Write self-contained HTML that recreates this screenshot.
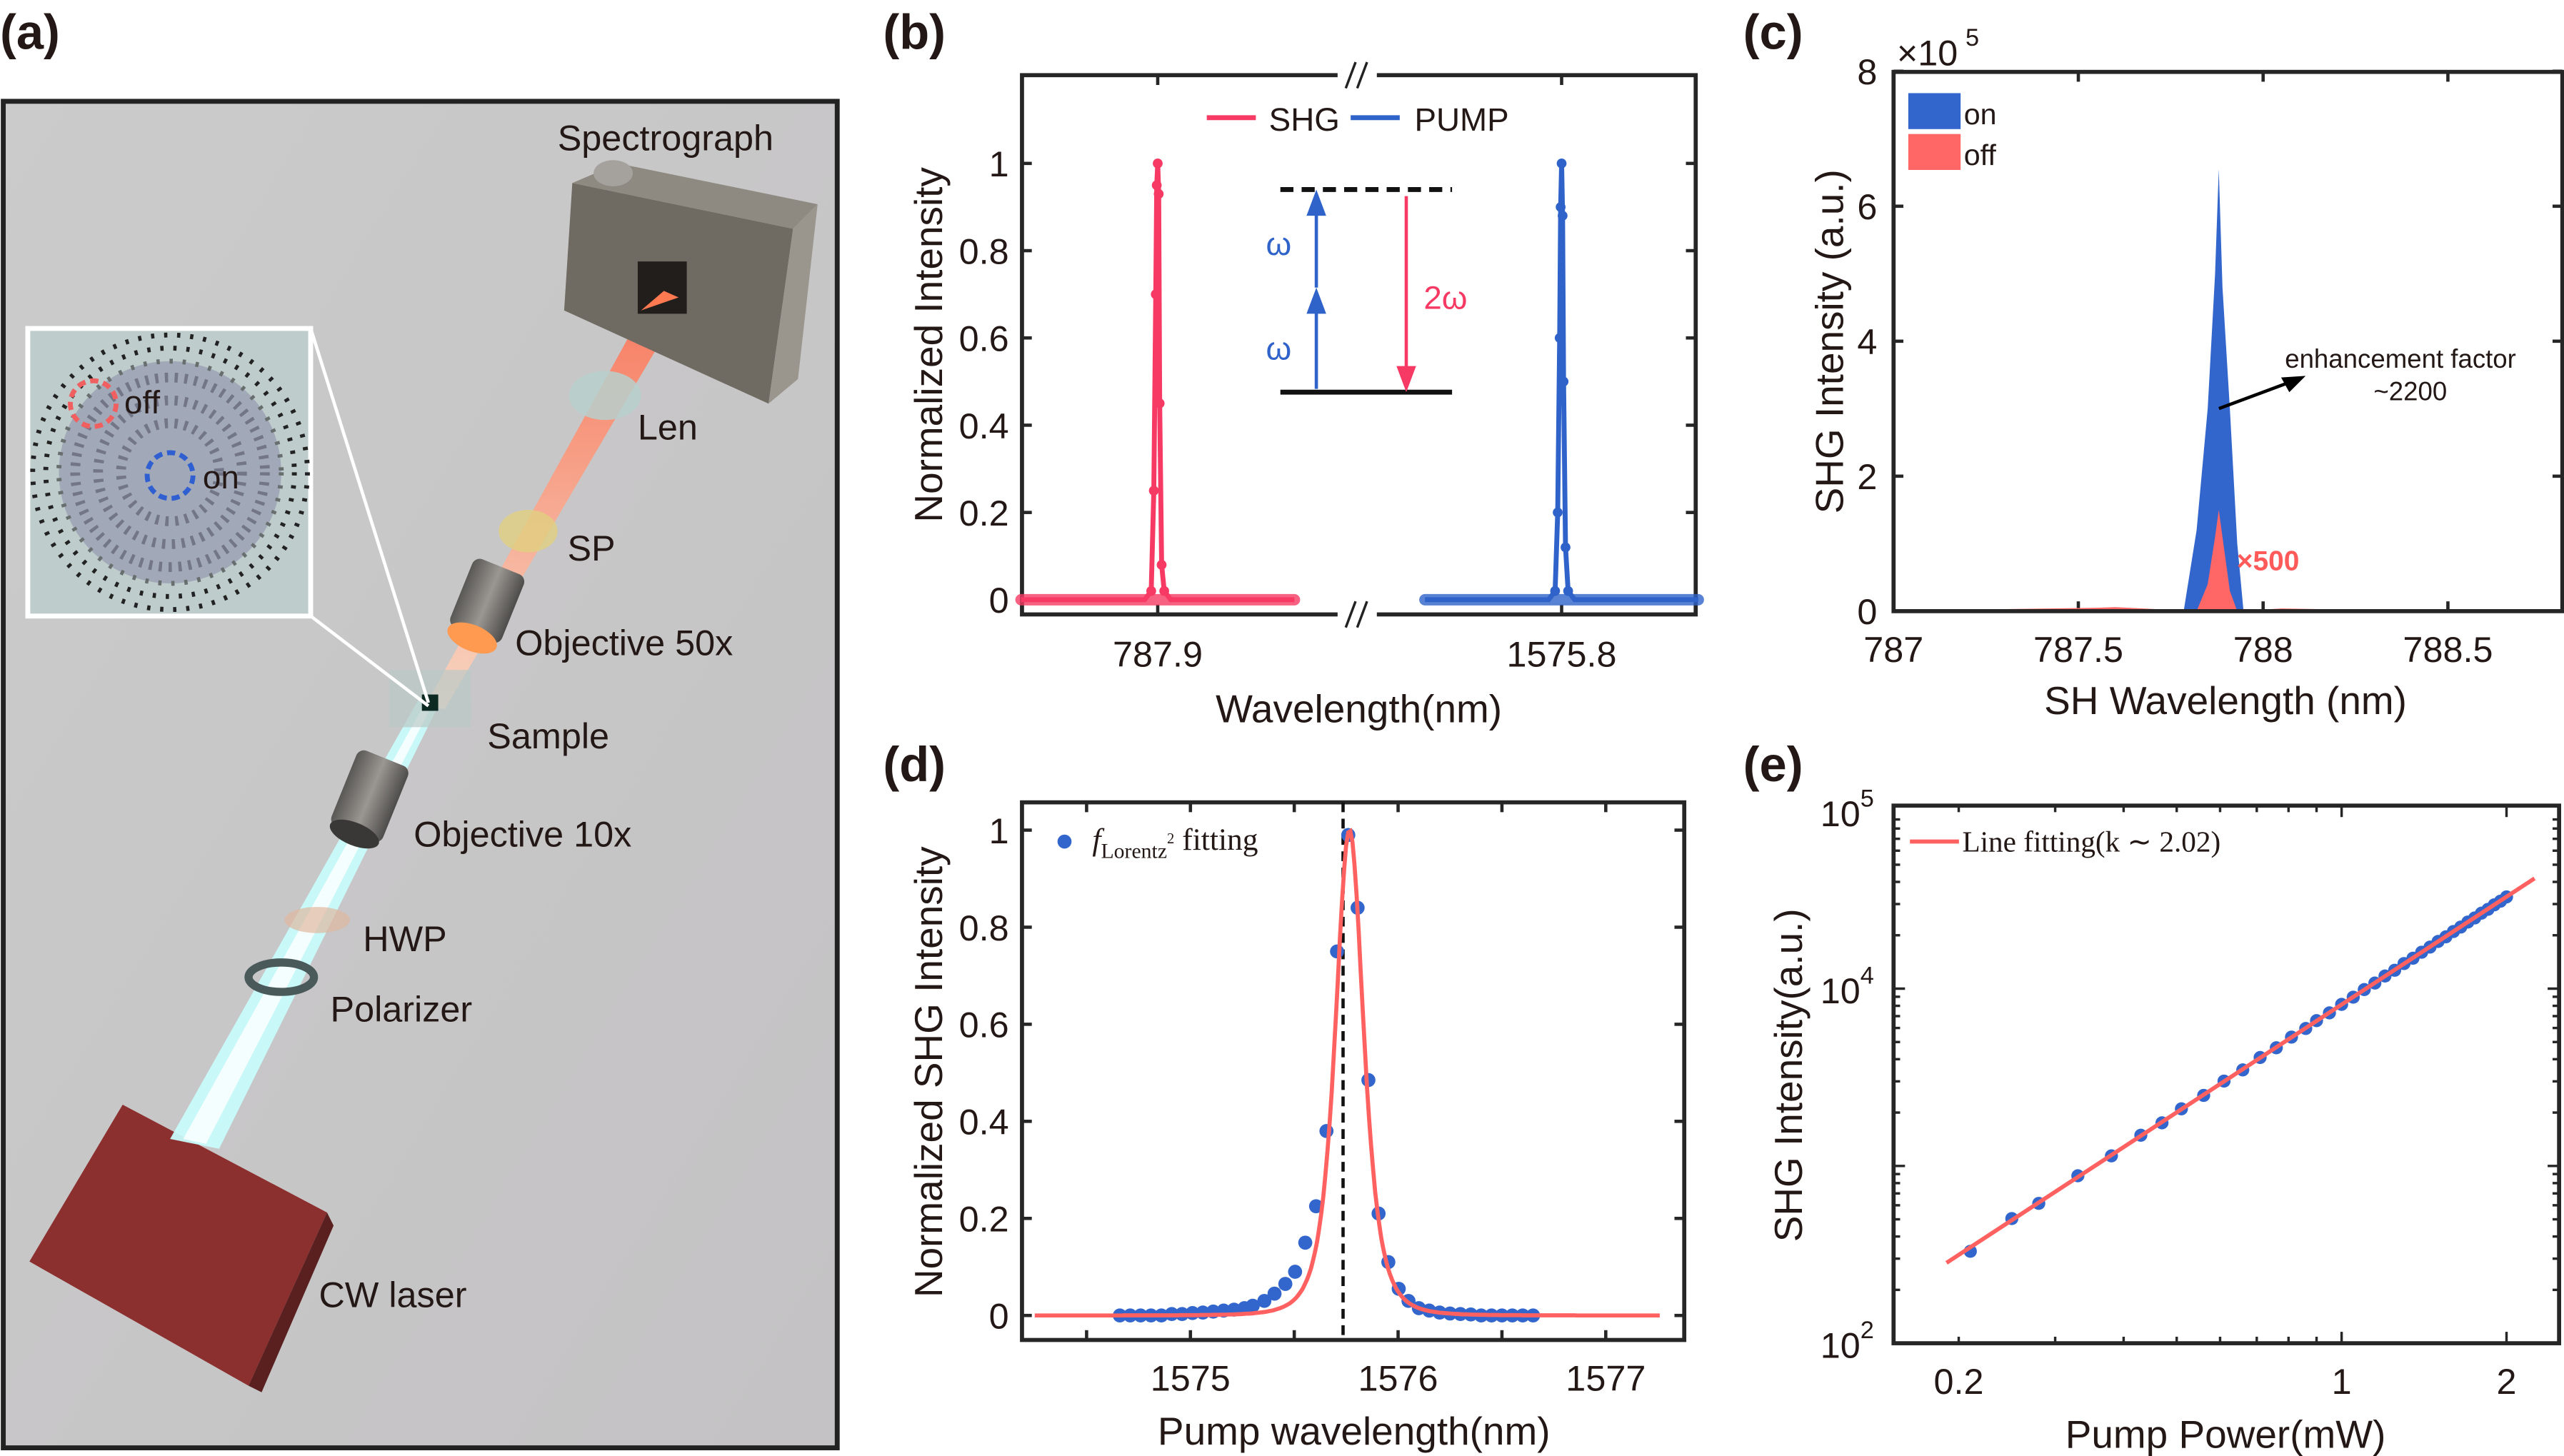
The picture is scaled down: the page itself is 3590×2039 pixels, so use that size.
<!DOCTYPE html>
<html><head><meta charset="utf-8"><style>
html,body{margin:0;padding:0;background:#fff;}
svg{display:block;}
text{font-family:"Liberation Sans",Arial,sans-serif;fill:#231815;}
</style></head><body>
<svg id="root" width="3590" height="2039" viewBox="0 0 1568 891" preserveAspectRatio="none" xmlns="http://www.w3.org/2000/svg">
<defs>
<linearGradient id="bgG" x1="0" y1="0" x2="1" y2="1"><stop offset="0" stop-color="#cbcbcb"/><stop offset="1" stop-color="#c4c2c4"/></linearGradient>
<linearGradient id="beamR" x1="0" y1="1" x2="0" y2="0"><stop offset="0" stop-color="#ffd8c0"/><stop offset="1" stop-color="#ff6a4a"/></linearGradient>
<linearGradient id="cyl" x1="0" y1="0" x2="1" y2="0"><stop offset="0" stop-color="#5a5855"/><stop offset="0.5" stop-color="#9a9792"/><stop offset="1" stop-color="#4e4c4a"/></linearGradient>
</defs>

<text x="0" y="30" font-size="30" font-weight="bold">(a)</text>
<text x="540" y="30" font-size="30" font-weight="bold">(b)</text>
<text x="1066" y="30" font-size="30" font-weight="bold">(c)</text>
<text x="540" y="478" font-size="30" font-weight="bold">(d)</text>
<text x="1066" y="478" font-size="30" font-weight="bold">(e)</text>

<g>
<rect x="2" y="62" width="510" height="824" fill="url(#bgG)" stroke="#222" stroke-width="3"/>
<polygon points="18,772 75,676 200,742 152,848" fill="#8c2f2f"/>
<polygon points="152,848 200,742 204,750 160,852" fill="#5a2020"/>
<polygon points="104,697 134,703 268,432 256,428" fill="#c8fbfb" opacity="0.95"/>
<polygon points="112,697 126,700 264,432 260,430" fill="#ffffff" opacity="0.8"/>
<polygon points="260,432 272,434 424,175 400,178" fill="url(#beamR)" opacity="0.85"/>
<!-- spectrograph -->
<polygon points="350,112 485,140 470,247 345,190" fill="#6f6a62"/>
<polygon points="350,112 378,100 500,125 485,140" fill="#8e8a82"/>
<polygon points="485,140 500,125 488,232 470,247" fill="#9a968e"/>
<rect x="390" y="160" width="30" height="32" fill="#221e1c"/>
<polygon points="392,190 406,178 415,182" fill="#ff7a50"/>
<ellipse cx="375" cy="106" rx="12" ry="8" fill="#a5a29d"/>
<ellipse cx="370" cy="242" rx="22" ry="15" fill="#b7d0cc" opacity="0.85"/>
<ellipse cx="323" cy="325" rx="18" ry="13" fill="#e0d080" opacity="0.8"/>
<g transform="rotate(22 297 370)"><rect x="280" y="345" width="34" height="45" rx="5" fill="url(#cyl)"/><ellipse cx="297" cy="392" rx="16" ry="8" fill="#ff9a50"/></g>
<rect x="238" y="410" width="50" height="35" fill="#b9c9c6" opacity="0.7"/>
<rect x="258" y="425" width="10" height="10" fill="#0c2a22"/>
<g transform="rotate(22 225 490)"><rect x="208" y="462" width="34" height="50" rx="5" fill="url(#cyl)"/><ellipse cx="225" cy="512" rx="16" ry="7" fill="#3a3837"/></g>
<ellipse cx="194" cy="563" rx="20" ry="8" fill="#e0b8a0" opacity="0.7"/>
<ellipse cx="172" cy="598" rx="20" ry="9" fill="none" stroke="#4a5a5a" stroke-width="5"/>
<line x1="190" y1="201" x2="262" y2="430" stroke="#fff" stroke-width="2"/>
<line x1="190" y1="377" x2="262" y2="432" stroke="#fff" stroke-width="2"/>
<rect x="17" y="201" width="173" height="176" fill="#bfcccc" stroke="#fff" stroke-width="3"/>
<circle cx="104" cy="289" r="84" fill="none" stroke="#222" stroke-width="3" stroke-dasharray="2 6"/>
<circle cx="104" cy="289" r="76" fill="none" stroke="#222" stroke-width="3" stroke-dasharray="2 6"/>
<circle cx="104" cy="289" r="68" fill="#8a8ea8" opacity="0.55" stroke="#222" stroke-width="3" stroke-dasharray="2 6"/>
<circle cx="104" cy="289" r="58" fill="none" stroke="#445" stroke-width="6" stroke-dasharray="2 4" opacity="0.5"/>
<circle cx="104" cy="289" r="44" fill="none" stroke="#445" stroke-width="6" stroke-dasharray="2 4" opacity="0.5"/>
<circle cx="104" cy="289" r="30" fill="none" stroke="#445" stroke-width="6" stroke-dasharray="2 4" opacity="0.5"/>
<circle cx="57" cy="247" r="14" fill="none" stroke="#f06060" stroke-width="3" stroke-dasharray="5 3"/>
<circle cx="104" cy="291" r="14" fill="none" stroke="#2f5fd0" stroke-width="3" stroke-dasharray="5 3"/>
<text x="76" y="253" font-size="20">off</text>
<text x="124" y="299" font-size="20">on</text>
<text x="341" y="92" font-size="22">Spectrograph</text>
<text x="390" y="269" font-size="22">Len</text>
<text x="347" y="343" font-size="22">SP</text>
<text x="315" y="401" font-size="22">Objective 50x</text>
<text x="298" y="458" font-size="22">Sample</text>
<text x="253" y="518" font-size="22">Objective 10x</text>
<text x="222" y="582" font-size="22">HWP</text>
<text x="202" y="625" font-size="22">Polarizer</text>
<text x="195" y="800" font-size="22">CW laser</text>
</g>

<g id="pb"></g>
<g id="pc"></g>
<g id="pd"></g>
<g id="pe"></g>
</svg>
<script>
const shgOffsets = [-0.42,-0.2,-0.04,-0.02,-0.012,-0.006,-0.003,0,0.003,0.006,0.012,0.02,0.04,0.2,0.42];
const shgValues  = [0,0,0,0.02,0.25,0.7,0.95,1.0,0.93,0.45,0.08,0.02,0,0,0];
const pumpOffsets = [-0.84,-0.4,-0.08,-0.04,-0.024,-0.012,-0.006,0,0.006,0.012,0.024,0.04,0.08,0.4,0.84];
const pumpValues  = [0,0,0,0.02,0.2,0.6,0.9,1.0,0.88,0.5,0.12,0.02,0,0,0];
const bTicksY = [0,0.2,0.4,0.6,0.8,1];
const cWl = [787.0,787.3,787.5,787.6,787.7,787.785,787.82,787.85,787.87,787.88,787.89,787.91,787.93,787.947,788.1,788.9];
const cOn = [0,0,0,0,0,0,1.2,3.0,5.0,6.55,4.8,3.0,1.0,0,0,0];
const cOffWl = [787.0,787.3,787.55,787.6,787.82,787.85,787.87,787.88,787.89,787.91,787.93,788.05,788.15,788.9];
const cOff = [0.02,0.03,0.05,0.06,0,0.4,1.1,1.5,1.1,0.3,0,0.04,0.03,0];
const cTicksX = [787,787.5,788,788.5];
const cTicksY = [0,2,4,6,8];
const dX = [1574.66,1574.71,1574.76,1574.81,1574.86,1574.91,1574.96,1575.01,1575.06,1575.11,1575.16,1575.21,1575.26,1575.30,1575.356,1575.405,1575.457,1575.504,1575.553,1575.605,1575.655,1575.706,1575.76,1575.805,1575.857,1575.906,1575.953,1576.003,1576.05,1576.10,1576.15,1576.20,1576.25,1576.30,1576.35,1576.40,1576.45,1576.50,1576.55,1576.60,1576.65];
const dY = [0,0,0,0,0,0.003,0.003,0.005,0.006,0.008,0.01,0.012,0.015,0.02,0.03,0.045,0.065,0.09,0.15,0.225,0.38,0.75,0.99,0.84,0.485,0.21,0.11,0.055,0.03,0.015,0.01,0.006,0.004,0.003,0.002,0,0,0,0,0,0];
const dFitParams = [1575.766, 0.125];
const dTicksX = [1575,1576,1577];
const dTicksY = [0,0.2,0.4,0.6,0.8,1];
const eP = [0.21,0.25,0.28,0.33,0.38,0.43,0.47,0.51,0.56,0.61,0.66,0.71,0.76,0.81,0.86,0.90,0.95,1.0,1.05,1.1,1.15,1.2,1.25,1.3,1.35,1.4,1.45,1.5,1.55,1.6,1.65,1.7,1.75,1.8,1.85,1.9,1.95,2.0];
const eI = [330,505,615,880,1140,1490,1750,2100,2500,3010,3480,4090,4640,5330,5960,6600,7300,8150,8950,9880,10750,11780,12700,13850,14850,16050,17150,18450,19600,21000,22250,23750,25050,26650,28000,29700,31150,32900];
const eFitK = [2.02, 315];
const eTicksX = [0.2,1,2];
const eTicksY = [2,4,5];

const NS='http://www.w3.org/2000/svg';
function mk(parent,tag,attrs){const e=document.createElementNS(NS,tag);for(const k in attrs)e.setAttribute(k,attrs[k]);parent.appendChild(e);return e;}
function txt(parent,x,y,s,size,anchor,extra){const t=mk(parent,'text',Object.assign({x:x,y:y,'font-size':size,'text-anchor':anchor||'middle'},extra||{}));t.textContent=s;return t;}
function frame(g,x0,y0,x1,y1){mk(g,'rect',{x:x0,y:y0,width:x1-x0,height:y1-y0,fill:'none',stroke:'#262626','stroke-width':2.5});}

(function(){
const g=document.getElementById('pb');
const X0=625,X1=1037,Y0=46,Y1=376;
const ys=v=>367-v*267;
const xl=o=>708+o*199, xr=o=>955+o*99.5;
frame(g,X0,Y0,X1,Y1);
bTicksY.forEach(v=>{const y=ys(v);
 const tk=mk(g,'line',{x1:X0,y1:y,x2:X0+6,y2:y,stroke:'#262626','stroke-width':2});
 
 
 mk(g,'line',{x1:X1,y1:y,x2:X1-6,y2:y,stroke:'#262626','stroke-width':2});
 const t=txt(g,X0-8,y+8,String(v),22,'end');
 
 });
[[708,'787.9'],[955,'1575.8']].forEach(([x,s])=>{mk(g,'line',{x1:x,y1:Y1,x2:x,y2:Y1-6,stroke:'#262626','stroke-width':2});mk(g,'line',{x1:x,y1:Y0,x2:x,y2:Y0+6,stroke:'#262626','stroke-width':2});
 const t=txt(g,x,408,s,22);
 
 });
mk(g,'rect',{x:818,y:Y0-6,width:24,height:12,fill:'#fff'});mk(g,'rect',{x:818,y:Y1-6,width:24,height:12,fill:'#fff'});
[[826,Y0],[833,Y0],[826,Y1],[833,Y1]].forEach(([x,y])=>mk(g,'line',{x1:x-3,y1:y+8,x2:x+3,y2:y-8,stroke:'#222','stroke-width':1.5}));
const yl=txt(g,0,0,'Normalized Intensity',24,'middle',{transform:'translate(576,211) rotate(-90)'});


const xlb=txt(g,831,442,'Wavelength(nm)',24);


function series(offs,vals,xf,col,name){
 const p=mk(g,'polyline',{points:offs.map((o,i)=>xf(o)+','+ys(vals[i])).join(' '),fill:'none',stroke:col,'stroke-width':3});
 
 
 mk(g,'line',{x1:xf(offs[0]),y1:ys(0),x2:xf(offs[offs.length-1]),y2:ys(0),stroke:col,'stroke-width':7,'stroke-linecap':'round',opacity:0.8});
 offs.forEach((o,i)=>{if(vals[i]>0.01){const c=mk(g,'circle',{cx:xf(o),cy:ys(vals[i]),r:3,fill:col});
 
 }});
}
series(shgOffsets,shgValues,xl,'#f63a64','shg-series');
series(pumpOffsets,pumpValues,xr,'#2f63c9','pump-series');
mk(g,'line',{x1:738,y1:72,x2:768,y2:72,stroke:'#f63a64','stroke-width':3});txt(g,776,80,'SHG',20,'start');
mk(g,'line',{x1:826,y1:72,x2:856,y2:72,stroke:'#2f63c9','stroke-width':3});txt(g,865,80,'PUMP',20,'start');
const ed=mk(g,'g',{});


mk(ed,'line',{x1:783,y1:116,x2:888,y2:116,stroke:'#111','stroke-width':3,'stroke-dasharray':'8 5'});
mk(ed,'line',{x1:783,y1:240,x2:888,y2:240,stroke:'#111','stroke-width':3});
mk(ed,'line',{x1:805,y1:238,x2:805,y2:190,stroke:'#2f63c9','stroke-width':2});
mk(ed,'polygon',{points:'805,176 799,192 811,192',fill:'#2f63c9'});
mk(ed,'line',{x1:805,y1:176,x2:805,y2:128,stroke:'#2f63c9','stroke-width':2});
mk(ed,'polygon',{points:'805,116 799,132 811,132',fill:'#2f63c9'});
mk(ed,'line',{x1:860,y1:120,x2:860,y2:226,stroke:'#f63a64','stroke-width':2});
mk(ed,'polygon',{points:'860,240 854,224 866,224',fill:'#f63a64'});
txt(ed,782,156,'ω',20,'middle',{style:'fill:#2f63c9'});
txt(ed,782,220,'ω',20,'middle',{style:'fill:#2f63c9'});
txt(ed,884,189,'2ω',20,'middle',{style:'fill:#f63a64'});
})();

(function(){
const g=document.getElementById('pc');
const X0=1158,X1=1567,Y0=44,Y1=374;
const xs=v=>1158+(v-787)*226, ys=v=>374-v*41.3;
cTicksY.forEach(v=>{const y=ys(v);mk(g,'line',{x1:X0,y1:y,x2:X0+6,y2:y,stroke:'#262626','stroke-width':2});mk(g,'line',{x1:X1,y1:y,x2:X1-6,y2:y,stroke:'#262626','stroke-width':2});
 const t=txt(g,X0-10,y+8,String(v),22,'end');
 
 });
cTicksX.forEach(v=>{const x=xs(v);mk(g,'line',{x1:x,y1:Y1,x2:x,y2:Y1-6,stroke:'#262626','stroke-width':2});mk(g,'line',{x1:x,y1:Y0,x2:x,y2:Y0+6,stroke:'#262626','stroke-width':2});
 const t=txt(g,x,405,String(v),22);
 
 });
const on=mk(g,'polygon',{points:cWl.map((w,i)=>xs(w)+','+ys(cOn[i])).join(' ')+' '+xs(cWl[cWl.length-1])+','+ys(0)+' '+xs(cWl[0])+','+ys(0),fill:'#3366cc'});


const off=mk(g,'polygon',{points:cOffWl.map((w,i)=>xs(w)+','+ys(cOff[i])).join(' ')+' '+xs(cOffWl[cOffWl.length-1])+','+ys(0)+' '+xs(cOffWl[0])+','+ys(0),fill:'#ff6666'});


frame(g,X0,Y0,X1,Y1);
txt(g,1160,40,'×10',22,'start');txt(g,1202,28,'5',15,'start');
const yl=txt(g,0,0,'SHG Intensity (a.u.)',24,'middle',{transform:'translate(1127,209) rotate(-90)'});


const xl=txt(g,1361,437,'SH Wavelength (nm)',24);


mk(g,'rect',{x:1167,y:57,width:32,height:22,fill:'#3366cc'});txt(g,1201,76,'on',18,'start');
mk(g,'rect',{x:1167,y:82,width:32,height:22,fill:'#ff6666'});txt(g,1201,101,'off',18,'start');
mk(g,'line',{x1:1357,y1:250,x2:1400,y2:234,stroke:'#000','stroke-width':2});
mk(g,'polygon',{points:'1410,230 1395,231 1400,240',fill:'#000'});
txt(g,1468,225,'enhancement factor',16);txt(g,1474,245,'~2200',16);
txt(g,1387,349,'×500',17,'middle',{style:'fill:#ff5a5a;font-weight:bold'});
})();

(function(){
const g=document.getElementById('pd');
const X0=625,X1=1030,Y0=491,Y1=820;
const xs=v=>728+(v-1575)*127, ys=v=>805-v*297;
frame(g,X0,Y0,X1,Y1);
dTicksY.forEach(v=>{const y=ys(v);mk(g,'line',{x1:X0,y1:y,x2:X0+6,y2:y,stroke:'#262626','stroke-width':2});mk(g,'line',{x1:X1,y1:y,x2:X1-6,y2:y,stroke:'#262626','stroke-width':2});
 const t=txt(g,X0-8,y+8,String(v),22,'end');
 
 });
[1574.5,1575,1575.5,1576,1576.5,1577].forEach(v=>{const x=xs(v);mk(g,'line',{x1:x,y1:Y1,x2:x,y2:Y1-6,stroke:'#262626','stroke-width':2});mk(g,'line',{x1:x,y1:Y0,x2:x,y2:Y0+6,stroke:'#262626','stroke-width':2});});
dTicksX.forEach(v=>{const t=txt(g,xs(v),851,String(v),22);
 
 });
const dl=mk(g,'line',{x1:xs(1575.735),y1:Y0,x2:xs(1575.735),y2:Y1,stroke:'#111','stroke-width':2,'stroke-dasharray':'6 4'});


dX.forEach((x,i)=>{const c=mk(g,'circle',{cx:xs(x),cy:ys(dY[i]),r:4.3,fill:'#3366cc'});
 
 });
const pts=[];for(let x=1574.25;x<=1577.26;x+=0.01){const u=(x-dFitParams[0])/dFitParams[1];const y=1/Math.pow(1+u*u,2);pts.push(xs(x).toFixed(1)+','+ys(y).toFixed(1));}
const fl=mk(g,'polyline',{points:pts.join(' '),fill:'none',stroke:'#ff6161','stroke-width':2.5});


mk(g,'circle',{cx:651,cy:515,r:4.3,fill:'#3366cc'});
const lt=txt(g,668,520,'',19,'start',{style:'font-family:"Liberation Serif",serif'});
lt.innerHTML='<tspan font-style="italic">f</tspan><tspan font-size="13" dy="5">Lorentz</tspan><tspan font-size="9" dy="-9">2</tspan><tspan dy="4"> fitting</tspan>';
const yl=txt(g,0,0,'Normalized SHG Intensity',24,'middle',{transform:'translate(576,656) rotate(-90)'});


const xl=txt(g,828,884,'Pump wavelength(nm)',24);


})();

(function(){
const g=document.getElementById('pe');
const X0=1158,X1=1565,Y0=493,Y1=822;
const xs=v=>1432+Math.log10(v)*335, ys=v=>822-(Math.log10(v)-2)*108.5;
frame(g,X0,Y0,X1,Y1);
[0.2,0.3,0.4,0.5,0.6,0.7,0.8,0.9,1,2].forEach(v=>{const x=xs(v);const L=(v===1||v===2)?7:4;mk(g,'line',{x1:x,y1:Y1,x2:x,y2:Y1-L,stroke:'#262626','stroke-width':1.5});mk(g,'line',{x1:x,y1:Y0,x2:x,y2:Y0+L,stroke:'#262626','stroke-width':1.5});});
eTicksX.forEach(v=>{const t=txt(g,xs(v),853,String(v),22);
 
 });
for(let d=2;d<5;d++)for(let m=1;m<10;m++){const y=ys(m*Math.pow(10,d));const L=m===1?7:4;mk(g,'line',{x1:X0,y1:y,x2:X0+L,y2:y,stroke:'#262626','stroke-width':1.5});mk(g,'line',{x1:X1,y1:y,x2:X1-L,y2:y,stroke:'#262626','stroke-width':1.5});}
eTicksY.forEach(p=>{const y=ys(Math.pow(10,p));const t=txt(g,X0-12,y+9,'',22,'end');t.innerHTML='10<tspan font-size="15" dy="-12">'+p+'</tspan>';
 
 });
eP.forEach((x,i)=>{const c=mk(g,'circle',{cx:xs(x),cy:ys(eI[i]),r:4,fill:'#3366cc'});
 
 });
const fx=[0.19,2.25];
const fl=mk(g,'polyline',{points:fx.map(x=>xs(x)+','+ys(eFitK[1]*Math.pow(x/0.2,eFitK[0]))).join(' '),fill:'none',stroke:'#ff6161','stroke-width':2.5});


mk(g,'line',{x1:1168,y1:515,x2:1198,y2:515,stroke:'#ff6161','stroke-width':2.5});
txt(g,1200,521,'Line fitting(k ∼ 2.02)',18,'start',{style:'font-family:"Liberation Serif",serif'});
const yl=txt(g,0,0,'SHG Intensity(a.u.)',24,'middle',{transform:'translate(1102,658) rotate(-90)'});


const xl=txt(g,1361,886,'Pump Power(mW)',24);


})();
</script>
</body></html>
